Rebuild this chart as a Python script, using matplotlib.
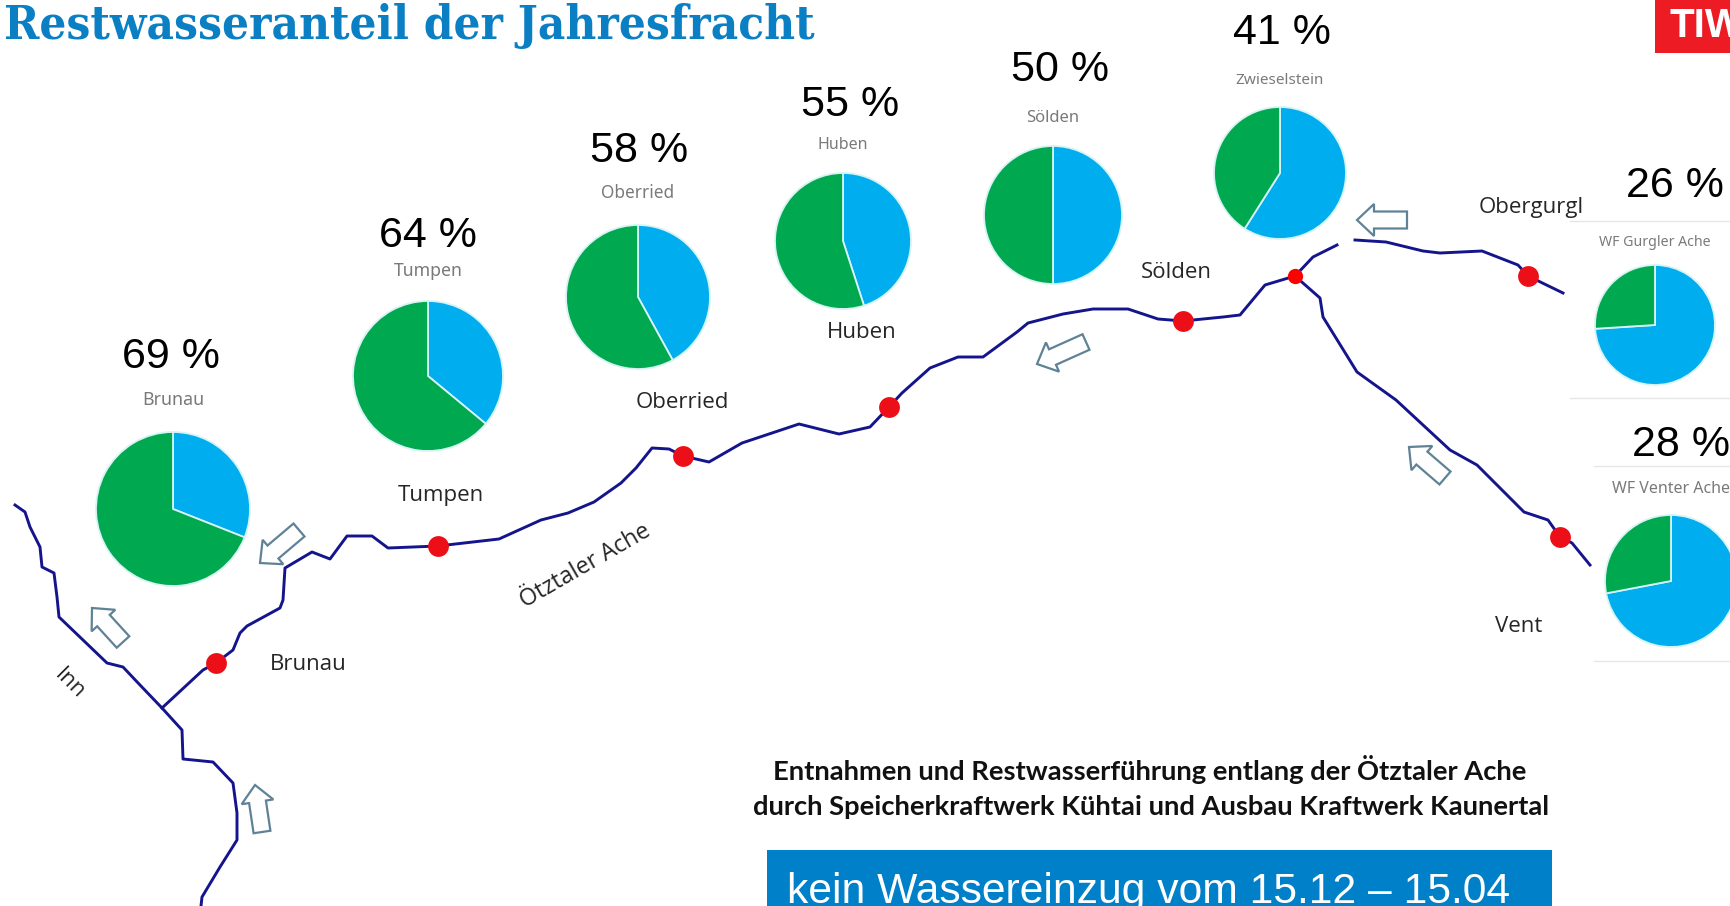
import matplotlib
matplotlib.use("Agg")
import matplotlib.pyplot as plt
from matplotlib.patches import Rectangle, FancyArrow

# stations: name, remaining water share
stations = ["Brunau", "Tumpen", "Oberried", "Huben", "Sölden", "Zwieselstein", "WF Gurgler Ache", "WF Venter Ache"]
restwasser = [69, 64, 58, 55, 50, 41, 26, 28]

# map coordinates are image pixels
pie_x = [173, 428, 638, 843, 1053, 1280, 1655, 1671]
pie_y = [509, 376, 297, 241, 215, 173, 325, 581]
pie_r = [77, 75, 72, 68, 69, 66, 60, 66]
name_y = [400, 271, 193, 145, 118, 80, 242, 489]
name_size = [12.8, 12.7, 12.4, 11.5, 12, 11, 10.2, 11.5]
pct_x = [171, 428, 639, 850, 1060, 1282, 1675, 1681]
pct_y = [357, 236, 151, 105, 70, 33, 186, 445]

inn_x = [15, 25, 30, 40, 42, 54, 57, 59, 83, 107, 123, 140, 162, 182, 183, 213, 233, 237, 237, 220, 202, 201]
inn_y = [505, 512, 527, 547, 567, 573, 597, 617, 640, 663, 667, 685, 708, 730, 759, 762, 783, 813, 840, 867, 897, 906]

ache_x = [162, 203, 216, 233, 240, 247, 280, 283, 285, 312, 330, 347, 372, 388, 438, 499, 541, 568, 594, 621, 636, 652,
          669, 683, 709, 742, 799, 839, 870, 889, 902, 930, 958, 983, 1017, 1028, 1063, 1093, 1128, 1158, 1183, 1223,
          1240, 1265, 1295, 1313, 1337]
ache_y = [708, 670, 663, 650, 633, 626, 608, 600, 568, 552, 559, 536, 536, 548, 546, 539, 520, 513, 502, 483, 468, 448,
          449, 456, 462, 443, 424, 434, 427, 407, 393, 368, 357, 357, 332, 323, 314, 309, 309, 319, 321, 317,
          315, 285, 276, 257, 245]

venter_x = [1295, 1320, 1323, 1357, 1396, 1450, 1477, 1524, 1548, 1560, 1572, 1590]
venter_y = [276, 298, 317, 372, 400, 450, 465, 512, 520, 537, 543, 565]

gurgler_x = [1355, 1386, 1423, 1440, 1482, 1518, 1528, 1563]
gurgler_y = [240, 242, 251, 253, 251, 265, 276, 293]

# measuring points on the rivers
point_x = [216, 438, 683, 889, 1183, 1528, 1560]
point_y = [663, 546, 456, 407, 321, 276, 537]

place_names = ["Brunau", "Tumpen", "Oberried", "Huben", "Sölden", "Obergurgl", "Vent"]
place_x = [308, 441, 682, 862, 1176, 1531, 1519]
place_y = [664, 495, 403, 332, 273, 208, 626]

# flow arrows: tail x, tail y, head x, head y
arrows = [(299, 530, 260, 563), (123, 642, 92, 608), (262, 832, 255, 785),
          (1086, 342, 1037, 364), (1407, 220, 1357, 220), (1445, 478, 1409, 447)]

fig = plt.figure(figsize=(17.3, 9.06), dpi=100)
ax = fig.add_axes([0, 0, 1, 1])

for i in range(len(stations)):
    ax.pie([100 - restwasser[i], restwasser[i]], colors=["#00AEEF", "#00A94F"], startangle=-90,
           center=(pie_x[i], pie_y[i]), radius=pie_r[i],
           wedgeprops={"edgecolor": "#d8f3f5", "linewidth": 1.3})
    ax.text(pie_x[i], name_y[i], stations[i], fontsize=name_size[i], color="#7a7a7a", ha="center", va="center",
            family="Noto Sans")
    ax.text(pct_x[i], pct_y[i], f"{restwasser[i]} %", fontsize=31, color="black", ha="center", va="center",
            family="Liberation Sans")

river = "#14148c"
ax.plot(inn_x, inn_y, color=river, lw=2.1)
ax.plot(ache_x, ache_y, color=river, lw=2.1)
ax.plot(venter_x, venter_y, color=river, lw=2.1)
ax.plot(gurgler_x, gurgler_y, color=river, lw=2.1)
ax.plot(point_x, point_y, "o", color="#ec0f17", ms=15, mew=0, zorder=4)
ax.plot([1295], [276], "o", color="#ff0000", ms=11, mew=0, zorder=4)

for tx, ty, hx, hy in arrows:
    ax.add_patch(FancyArrow(tx, ty, hx - tx, hy - ty, width=17, head_width=32, head_length=17,
                            length_includes_head=True, facecolor="white", edgecolor="#5f8296", linewidth=1.6))

for name, x, y in zip(place_names, place_x, place_y):
    ax.text(x, y, name, fontsize=16, color="#262626", ha="center", va="center", family="Open Sans")
ax.text(70, 684, "Inn", fontsize=16, color="#262626", rotation=-45, ha="center", va="center", family="Open Sans")
ax.text(585, 566, "Ötztaler Ache", fontsize=16.8, color="#262626", rotation=30, ha="center", va="center",
        family="Open Sans")

# thin panel lines round the two side pies
for y, x0 in [(221, 1570), (398, 1570), (466, 1594), (661, 1594)]:
    ax.plot([x0, 1730], [y, y], color="#e6e6e6", lw=1)

ax.text(4, 26, "Restwasseranteil der Jahresfracht", fontsize=34, color="#0a7fc4", ha="left", va="center",
        family="DejaVu Serif", stretch="condensed", fontweight="bold")
ax.add_patch(Rectangle((1655, 0), 75, 53, color="#ed1c24", lw=0))
ax.text(1670, 26, "TIW", fontsize=29, color="white", fontweight="bold", ha="left", va="center",
        family="Liberation Sans", clip_on=True)

ax.text(1150, 770, "Entnahmen und Restwasserführung entlang der Ötztaler Ache", fontsize=19.7, fontweight="bold",
        color="#111111", ha="center", va="center", family="Lato")
ax.text(1151, 807, "durch Speicherkraftwerk Kühtai und Ausbau Kraftwerk Kaunertal", fontsize=19.7, fontweight="bold",
        color="#111111", ha="center", va="center", family="Lato")

ax.add_patch(Rectangle((767, 850), 785, 56, color="#0080c8", lw=0))
ax.text(787, 903, "kein Wassereinzug vom 15.12 – 15.04", fontsize=30.7, color="white", ha="left", va="baseline",
        family="Liberation Sans", clip_on=True)

ax.set_xlim(0, 1730)
ax.set_ylim(906, 0)
ax.set_aspect("auto")
ax.axis("off")

plt.savefig("out.png", dpi=100, facecolor="white")
